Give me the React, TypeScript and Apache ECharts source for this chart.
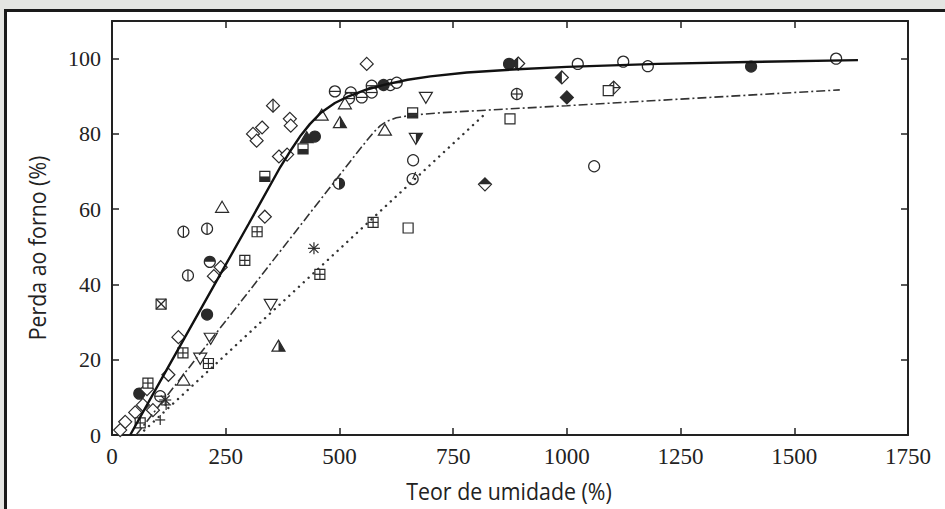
import React, { useEffect, useRef } from "react";
import * as echarts from "echarts";

// ---------- Data ----------
const xTicks = [0, 250, 500, 750, 1000, 1250, 1500, 1750];
const yTicks = [0, 20, 40, 60, 80, 100];

const solidCurve: number[][] = [
  [40, 0], [100, 13], [200, 34.5], [300, 56], [370, 71.2], [395, 76], [415, 79.6], [435, 82.6],
  [460, 85.7], [490, 88.2], [520, 90], [560, 91.8], [600, 93.1], [650, 94.4], [700, 95.3],
  [780, 96.3], [880, 97.1], [1000, 97.8], [1200, 98.6], [1400, 99.1], [1640, 99.6],
];
const dashDotCurve: number[][] = [
  [53, 0], [200, 22.6], [300, 38], [400, 53.5], [500, 69], [540, 75.2], [560, 78.2], [575, 80.4],
  [590, 82.2], [605, 83.4], [625, 84.3], [660, 85], [720, 85.6], [850, 86.5], [1000, 87.5],
  [1200, 88.9], [1400, 90.3], [1600, 91.7],
];
const dottedCurve: number[][] = [[60, 0], [820, 85.3]];

const circleOpen = [[1024, 98.6], [1124, 99.2], [1178, 98], [1592, 100], [1060, 71.4], [662, 73]];
const circleHLine = [[490, 91.3], [525, 91], [521, 89.4], [549, 89.7], [571, 92.8], [571, 91], [612, 93], [626, 93.6], [106, 10.3]];
const circleVLine = [[157, 54], [209, 54.8], [167, 42.4]];
const circleFilled = [[209, 32], [60, 11], [446, 79.3], [873, 98.6], [1405, 97.9], [597, 93]];
const circleHalfRight = [[499, 66.8]];
const circleHalfTop = [[215, 46]];
const circlePlus = [[890, 90.6]];
const circleTail = [[661, 68]];
const diamondOpen = [
  [560, 98.6], [310, 80], [330, 81.7], [318, 78.2], [391, 84], [393, 82.2], [367, 74], [385, 74.5],
  [336, 58], [239, 44.6], [224, 42.2], [146, 26], [124, 16], [77, 12.2], [68, 8], [51, 6],
  [29, 3.5], [18, 1.3], [90, 6.6],
];
const diamondVLine = [[354, 87.5]];
const diamondFilled = [[1000, 89.7]];
const diamondHalfLeft = [[989, 95], [893, 98.7]];
const diamondHalfTop = [[820, 66.6]];
const diamondPlus = [[1103, 92.3]];
const triangleOpen = [[242, 60.5], [461, 85], [512, 88], [600, 81], [157, 14.6]];
const triangleFilled = [[428, 79]];
const triangleHalfRight = [[501, 83], [366, 23.6]];
const triangleDownOpen = [[690, 89.7], [349, 34.7], [217, 25.7], [194, 20.4]];
const triangleDownHalf = [[668, 78.8]];
const squareOpen = [[651, 55], [875, 84], [1091, 91.5]];
const squareGrid = [[574, 56.5], [319, 54], [292, 46.4], [457, 42.7], [156, 21.8], [212, 19], [79, 13.8], [62, 3.2]];
const squareCross = [[108, 34.8]];
const squareHalfBottom = [[336, 68.7], [420, 76], [661, 85.6]];
const asteriskPts = [[444, 49.6], [117, 9.3]];
const plusPts = [[119, 8], [106, 4]];

// ---------- Marker drawing ----------
const INK = "#2a2a2a";
const LW = 1.2;
const open = (fill = "#fff") => ({ fill, stroke: INK, lineWidth: LW });
const ln = (x1: number, y1: number, x2: number, y2: number) => ({
  type: "line",
  shape: { x1, y1, x2, y2 },
  style: { stroke: INK, lineWidth: LW },
});

type Drawer = (x: number, y: number) => any[];
const R = 5.5;
const D = 6.5;
const diamondPts = (x: number, y: number) => [[x, y - D], [x + D, y], [x, y + D], [x - D, y]];
const triPts = (x: number, y: number) => [[x, y - 6], [x + 6.5, y + 5], [x - 6.5, y + 5]];
const triDownPts = (x: number, y: number) => [[x - 6.5, y - 5], [x + 6.5, y - 5], [x, y + 6]];
const drawers: Record<string, Drawer> = {
  circleOpen: (x, y) => [{ type: "circle", shape: { cx: x, cy: y, r: R }, style: open() }],
  circleHLine: (x, y) => [{ type: "circle", shape: { cx: x, cy: y, r: R }, style: open() }, ln(x - R, y, x + R, y)],
  circleVLine: (x, y) => [{ type: "circle", shape: { cx: x, cy: y, r: R }, style: open() }, ln(x, y - R, x, y + R)],
  circleFilled: (x, y) => [{ type: "circle", shape: { cx: x, cy: y, r: R }, style: open(INK) }],
  circleHalfRight: (x, y) => [
    { type: "circle", shape: { cx: x, cy: y, r: R }, style: open() },
    { type: "sector", shape: { cx: x, cy: y, r: R, r0: 0, startAngle: -Math.PI / 2, endAngle: Math.PI / 2 }, style: { fill: INK } },
  ],
  circleHalfTop: (x, y) => [
    { type: "circle", shape: { cx: x, cy: y, r: R }, style: open() },
    { type: "sector", shape: { cx: x, cy: y, r: R, r0: 0, startAngle: Math.PI, endAngle: Math.PI * 2 }, style: { fill: INK } },
  ],
  circlePlus: (x, y) => [
    { type: "circle", shape: { cx: x, cy: y, r: R }, style: open() },
    ln(x - R, y, x + R, y), ln(x, y - R, x, y + R),
  ],
  circleTail: (x, y) => [{ type: "circle", shape: { cx: x, cy: y, r: R }, style: open() }, ln(x, y, x + 3, y - 7)],
  diamondOpen: (x, y) => [{ type: "polygon", shape: { points: diamondPts(x, y) }, style: open() }],
  diamondVLine: (x, y) => [{ type: "polygon", shape: { points: diamondPts(x, y) }, style: open() }, ln(x, y - D, x, y + D)],
  diamondFilled: (x, y) => [{ type: "polygon", shape: { points: diamondPts(x, y) }, style: open(INK) }],
  diamondHalfLeft: (x, y) => [
    { type: "polygon", shape: { points: diamondPts(x, y) }, style: open() },
    { type: "polygon", shape: { points: [[x, y - D], [x, y + D], [x - D, y]] }, style: { fill: INK } },
  ],
  diamondHalfTop: (x, y) => [
    { type: "polygon", shape: { points: diamondPts(x, y) }, style: open() },
    { type: "polygon", shape: { points: [[x, y - D], [x + D, y], [x - D, y]] }, style: { fill: INK } },
  ],
  diamondPlus: (x, y) => [
    { type: "polygon", shape: { points: diamondPts(x, y) }, style: open() },
    ln(x - D, y, x + D, y), ln(x, y - D, x, y + D),
  ],
  triangleOpen: (x, y) => [{ type: "polygon", shape: { points: triPts(x, y) }, style: open() }],
  triangleFilled: (x, y) => [{ type: "polygon", shape: { points: triPts(x, y) }, style: open(INK) }],
  triangleHalfRight: (x, y) => [
    { type: "polygon", shape: { points: triPts(x, y) }, style: open() },
    { type: "polygon", shape: { points: [[x, y - 6], [x + 6.5, y + 5], [x, y + 5]] }, style: { fill: INK } },
  ],
  triangleDownOpen: (x, y) => [{ type: "polygon", shape: { points: triDownPts(x, y) }, style: open() }],
  triangleDownHalf: (x, y) => [
    { type: "polygon", shape: { points: triDownPts(x, y) }, style: open() },
    { type: "polygon", shape: { points: [[x, y - 5], [x + 6.5, y - 5], [x, y + 6]] }, style: { fill: INK } },
  ],
  squareOpen: (x, y) => [{ type: "rect", shape: { x: x - 5, y: y - 5, width: 10, height: 10 }, style: open() }],
  squareGrid: (x, y) => [
    { type: "rect", shape: { x: x - 5, y: y - 5, width: 10, height: 10 }, style: open() },
    ln(x - 5, y, x + 5, y), ln(x, y - 5, x, y + 5),
  ],
  squareCross: (x, y) => [
    { type: "rect", shape: { x: x - 5, y: y - 5, width: 10, height: 10 }, style: open() },
    ln(x - 5, y - 5, x + 5, y + 5), ln(x - 5, y + 5, x + 5, y - 5),
  ],
  squareHalfBottom: (x, y) => [
    { type: "rect", shape: { x: x - 5, y: y - 5, width: 10, height: 10 }, style: open() },
    { type: "rect", shape: { x: x - 5, y: y, width: 10, height: 5 }, style: { fill: INK } },
  ],
  asterisk: (x, y) => [
    ln(x - 6, y, x + 6, y), ln(x, y - 6, x, y + 6),
    ln(x - 4.5, y - 4.5, x + 4.5, y + 4.5), ln(x - 4.5, y + 4.5, x + 4.5, y - 4.5),
  ],
  plus: (x, y) => [ln(x - 5, y, x + 5, y), ln(x, y - 5, x, y + 5)],
};

const markerSets: [string, number[][]][] = [
  ["circleOpen", circleOpen], ["circleHLine", circleHLine], ["circleVLine", circleVLine],
  ["circleFilled", circleFilled], ["circleHalfRight", circleHalfRight], ["circleHalfTop", circleHalfTop],
  ["circlePlus", circlePlus], ["circleTail", circleTail], ["diamondOpen", diamondOpen],
  ["diamondVLine", diamondVLine], ["diamondFilled", diamondFilled], ["diamondHalfLeft", diamondHalfLeft],
  ["diamondHalfTop", diamondHalfTop], ["diamondPlus", diamondPlus], ["triangleOpen", triangleOpen],
  ["triangleFilled", triangleFilled], ["triangleHalfRight", triangleHalfRight],
  ["triangleDownOpen", triangleDownOpen], ["triangleDownHalf", triangleDownHalf],
  ["squareOpen", squareOpen], ["squareGrid", squareGrid], ["squareCross", squareCross],
  ["squareHalfBottom", squareHalfBottom], ["asterisk", asteriskPts], ["plus", plusPts],
];

const SERIF = "Liberation Serif";
const SANS = "Open Sans";

export default function App() {
  const ref = useRef<HTMLDivElement>(null);
  useEffect(() => {
    if (!ref.current) return;
    const chart = echarts.init(ref.current, undefined, { renderer: "svg" });
    const axisLine = { show: true, onZero: false, lineStyle: { color: "#222", width: 2 } };
    const axisTick = { show: true, inside: true, length: 7, lineStyle: { color: "#222", width: 1.5 } };

    const markerSeries = markerSets.map(([kind, pts]) => ({
      type: "custom",
      name: kind,
      xAxisIndex: 0,
      yAxisIndex: 0,
      data: pts,
      encode: { x: 0, y: 1 },
      z: 2,
      renderItem: (params: any, api: any) => {
        const p = api.coord([api.value(0), api.value(1)]);
        return { type: "group", children: drawers[kind](p[0], p[1]) };
      },
    }));

    const lineBase = { type: "line", showSymbol: false, symbol: "none", xAxisIndex: 0, yAxisIndex: 0, z: 3, silent: true };

    chart.setOption({
      animation: false,
      backgroundColor: "transparent",
      grid: { left: 112, top: 21, width: 796, height: 414, containLabel: false },
      xAxis: [
        {
          type: "value", min: 0, max: 1750, interval: 250, position: "bottom",
          axisLine, axisTick, splitLine: { show: false },
          axisLabel: {
            fontFamily: SERIF, fontSize: 23, color: "#222", margin: 10,
            formatter: (v: number) => (xTicks.includes(v) ? String(v) : ""),
          },
        },
        {
          type: "value", min: 0, max: 1750, interval: 250, position: "top",
          axisLine, axisTick, splitLine: { show: false }, axisLabel: { show: false },
        },
      ],
      yAxis: [
        {
          type: "value", min: 0, max: 110, interval: 20, position: "left",
          axisLine, axisTick, splitLine: { show: false },
          axisLabel: {
            fontFamily: SERIF, fontSize: 22, color: "#222", margin: 11, showMaxLabel: false,
            formatter: (v: number) => (yTicks.includes(v) ? String(v) : ""),
          },
        },
        {
          type: "value", min: 0, max: 110, interval: 20, position: "right",
          axisLine, axisTick, splitLine: { show: false }, axisLabel: { show: false },
        },
      ],
      graphic: [
        {
          type: "text", x: 509, y: 491, scaleX: 0.89,
          style: { text: "Teor de umidade (%)", fontFamily: SANS, fontSize: 24, lineHeight: 24, fill: "#222", textAlign: "center", textVerticalAlign: "middle" },
        },
        {
          type: "text", x: 37, y: 248, rotation: Math.PI / 2, scaleX: 0.89,
          style: { text: "Perda ao forno (%)", fontFamily: SANS, fontSize: 24, lineHeight: 24, fill: "#222", textAlign: "center", textVerticalAlign: "middle" },
        },
      ],
      series: [
        ...markerSeries,
        { ...lineBase, name: "solid", data: solidCurve, lineStyle: { color: "#111", width: 2.4, type: "solid" } },
        { ...lineBase, name: "dashdot", data: dashDotCurve, lineStyle: { color: "#333", width: 1.6, type: [9, 3, 2, 3] } },
        { ...lineBase, name: "dotted", data: dottedCurve, lineStyle: { color: "#333", width: 2.4, type: [0.1, 6.5], cap: "round" } },
      ],
    });
    return () => chart.dispose();
  }, []);

  return (
    <div style={{ position: "fixed", left: 0, top: 0, width: 945, height: 509, background: "#e4e5e2", overflow: "hidden" }}>
      <div
        style={{
          position: "absolute", left: 4, top: 9, width: 980, height: 540, background: "#fff",
          borderLeft: "3px solid #1a1a1a", borderTop: "3px solid #1a1a1a",
        }}
      />
      <div ref={ref} style={{ position: "absolute", left: 0, top: 0, width: 945, height: 509 }} />
    </div>
  );
}
